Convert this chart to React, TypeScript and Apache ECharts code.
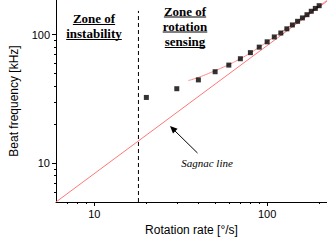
import React, { useEffect, useRef } from "react";
import * as echarts from "echarts";

const rotationRate = [20, 30, 40, 50, 60, 70, 80, 90, 100, 110, 120, 130, 140, 150, 160, 170, 180, 190, 200];
const beatFreq = [32.5, 38, 44.5, 51.5, 58, 65, 72.5, 80, 88, 96, 103, 111, 119, 127, 135, 143, 152, 160, 168];

// Fitted curve
const fitRate = [35, 40, 50, 60, 70, 80, 90, 100, 120, 140, 160, 180, 200, 222];
const fitFreq = [44, 46.5, 52.5, 58.5, 65, 72, 80, 88, 104.5, 120, 136, 151.5, 167, 185];

// Sagnac line end points
const sagnacRate = [6, 222];
const sagnacFreq = [5, 182];

// Boundary between the zones
const boundaryRate = 18;
const boundaryFreq = [5, 153];

const majorTicks = [10, 100];
const xMinorTicks = [7, 8, 9, 20, 30, 40, 50, 60, 70, 80, 90, 200];
const yMinorTicks = [6, 7, 8, 9, 20, 30, 40, 50, 60, 70, 80, 90];

const X_MIN = 6, X_MAX = 222, Y_MIN = 5, Y_MAX = 186;

const SANS = "Liberation Sans";
const SERIF = "Liberation Serif";

function measure(text: string, font: string): number {
  const c = document.createElement("canvas").getContext("2d");
  if (!c) return text.length * 6;
  c.font = font;
  return c.measureText(text).width;
}

export default function App() {
  const ref = useRef<HTMLDivElement>(null);
  useEffect(() => {
    if (!ref.current) return;
    const chart = echarts.init(ref.current, undefined, { renderer: "svg" });

    const zoneText = (lines: string[], cx: number, ys: number[]) => {
      const els: any[] = [];
      lines.forEach((t, i) => {
        const w = measure(t, `bold 13px "${SERIF}"`);
        els.push({
          type: "text",
          x: cx,
          y: ys[i],
          style: {
            text: t,
            fontFamily: SERIF,
            fontWeight: "bold",
            fontStyle: "normal",
            fontSize: 13,
            fill: "#000",
            align: "center",
            verticalAlign: "middle",
          },
        });
        els.push({
          type: "line",
          shape: { x1: cx - w / 2, y1: ys[i] + 6, x2: cx + w / 2, y2: ys[i] + 6 },
          style: { stroke: "#000", lineWidth: 1 },
        });
      });
      return els;
    };

    const xAxisBase = {
      type: "log" as const,
      min: X_MIN,
      max: X_MAX,
      position: "bottom" as const,
      offset: 0,
      splitLine: { show: false },
      minorTick: { show: false },
    };
    const yAxisBase = {
      type: "log" as const,
      min: Y_MIN,
      max: Y_MAX,
      position: "left" as const,
      offset: 0,
      splitLine: { show: false },
      minorTick: { show: false },
    };

    chart.setOption({
      animation: false,
      grid: { left: 52, right: 0, top: 0, bottom: 40 },
      xAxis: [
        {
          ...xAxisBase,
          name: "Rotation rate [°/s]",
          nameLocation: "middle",
          nameGap: 21,
          nameTextStyle: { fontFamily: SANS, fontSize: 12, color: "#000" },
          axisLine: { show: true, lineStyle: { color: "#000", width: 1 } },
          axisTick: { show: true, length: 4, customValues: majorTicks, lineStyle: { color: "#000" } },
          axisLabel: { customValues: majorTicks, margin: 6, fontFamily: SANS, fontSize: 11, color: "#000" },
        },
        {
          ...xAxisBase,
          axisLine: { show: false },
          axisTick: { show: true, length: 2, customValues: xMinorTicks, lineStyle: { color: "#000" } },
          axisLabel: { show: false },
        },
      ],
      yAxis: [
        {
          ...yAxisBase,
          name: "Beat frequency [kHz]",
          nameLocation: "middle",
          nameGap: 36,
          nameRotate: 90,
          nameTextStyle: { fontFamily: SANS, fontSize: 12, color: "#000" },
          axisLine: { show: true, lineStyle: { color: "#000", width: 1 } },
          axisTick: { show: true, length: 4, customValues: majorTicks, lineStyle: { color: "#000" } },
          axisLabel: { customValues: majorTicks, margin: 6, fontFamily: SANS, fontSize: 11, color: "#000" },
        },
        {
          ...yAxisBase,
          axisLine: { show: false },
          axisTick: { show: true, length: 2, customValues: yMinorTicks, lineStyle: { color: "#000" } },
          axisLabel: { show: false },
        },
      ],
      series: [
        {
          name: "Sagnac line",
          type: "line",
          xAxisIndex: 0,
          yAxisIndex: 0,
          data: sagnacRate.map((x, i) => [x, sagnacFreq[i]]),
          symbol: "none",
          lineStyle: { color: "#f77", width: 1 },
          z: 2,
        },
        {
          name: "Boundary",
          type: "line",
          xAxisIndex: 0,
          yAxisIndex: 0,
          data: boundaryFreq.map((y) => [boundaryRate, y]),
          symbol: "none",
          lineStyle: { color: "#000", width: 1, type: [4, 3] },
          z: 2,
        },
        {
          name: "Fit",
          type: "line",
          xAxisIndex: 0,
          yAxisIndex: 0,
          data: fitRate.map((x, i) => [x, fitFreq[i]]),
          symbol: "none",
          smooth: true,
          lineStyle: { color: "#f88", width: 1 },
          z: 3,
        },
        {
          name: "Measured",
          type: "scatter",
          xAxisIndex: 0,
          yAxisIndex: 0,
          data: rotationRate.map((x, i) => [x, beatFreq[i]]),
          symbol: "rect",
          symbolSize: 5,
          itemStyle: { color: "#000" },
          z: 4,
        },
      ],
      graphic: [
        ...zoneText(["Zone of", "instability"], 94, [18.5, 33.5]),
        ...zoneText(["Zone of", "rotation", "sensing"], 185, [11, 26, 41.5]),
        {
          type: "text",
          x: 207,
          y: 163,
          style: {
            text: "Sagnac line",
            fontFamily: SERIF,
            fontStyle: "italic",
            fontWeight: "normal",
            fontSize: 11,
            fill: "#000",
            align: "center",
            verticalAlign: "middle",
          },
        },
        {
          type: "line",
          shape: { x1: 197.5, y1: 153, x2: 174, y2: 130 },
          style: { stroke: "#000", lineWidth: 1 },
        },
        {
          type: "polygon",
          shape: { points: [[170, 126], [177.6, 128.8], [173, 133.5]] },
          style: { fill: "#000" },
        },
      ],
    });
    return () => chart.dispose();
  }, []);
  return (
    <div
      ref={ref}
      style={{ position: "fixed", left: 0, top: 0, width: 327, height: 242, background: "#fff" }}
    />
  );
}
